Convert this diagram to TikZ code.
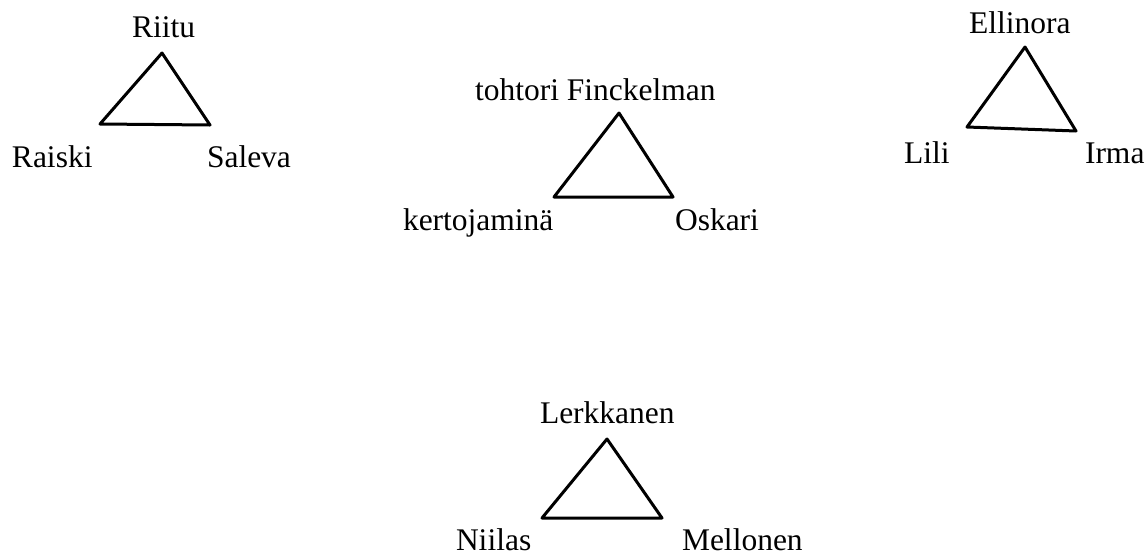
\documentclass[tikz,border=0pt]{standalone}
\usepackage{fontspec}
\setmainfont{Liberation Serif}
\begin{document}
\begin{tikzpicture}[x=1pt,y=-1pt,
  lbl/.style={inner sep=0pt,outer sep=0pt,anchor=base west,font=\fontsize{31.5}{36}\selectfont},
  tri/.style={line width=3pt,line join=round,line cap=round}]
\useasboundingbox (0,0) rectangle (1148,555);
% triangle 1
\coordinate (a1) at (162,53);
\coordinate (b1) at (100,124);
\coordinate (c1) at (210,125);
\node[lbl] (riitu) at (132,37) {Riitu};
\node[lbl] (raiski) at (12,167) {Raiski};
\node[lbl] (saleva) at (207,167) {Saleva};
\draw[tri] (a1) -- (b1) -- (c1) -- cycle;
% triangle 2
\coordinate (a2) at (619,113);
\coordinate (b2) at (554,197);
\coordinate (c2) at (673,197);
\node[lbl] (fin) at (475,100) {tohtori Finckelman};
\node[lbl] (kert) at (403,230) {kertojaminä};
\node[lbl] (osk) at (675,230) {Oskari};
\draw[tri] (a2) -- (b2) -- (c2) -- cycle;
% triangle 3
\coordinate (a3) at (1025,47);
\coordinate (b3) at (967,127);
\coordinate (c3) at (1076,131);
\node[lbl] (ell) at (969,33) {Ellinora};
\node[lbl] (lili) at (904,163) {Lili};
\node[lbl] (irma) at (1085,163) {Irma};
\draw[tri] (a3) -- (b3) -- (c3) -- cycle;
% triangle 4
\coordinate (a4) at (607,439);
\coordinate (b4) at (542,518);
\coordinate (c4) at (662,518);
\node[lbl] (lerk) at (540,423) {Lerkkanen};
\node[lbl] (nii) at (456,550) {Niilas};
\node[lbl] (mel) at (682,550) {Mellonen};
\draw[tri] (a4) -- (b4) -- (c4) -- cycle;
\end{tikzpicture}
\end{document}
